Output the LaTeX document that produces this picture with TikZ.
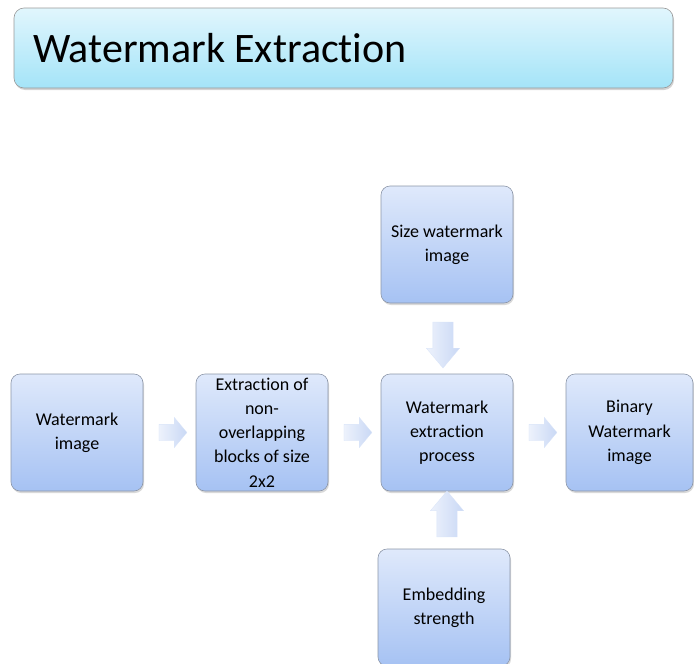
\documentclass[tikz,border=0pt]{standalone}
\usepackage{fontspec}
\setmainfont[Ligatures=NoCommon]{Carlito}
\usetikzlibrary{shapes.arrows,shadows,calc}
\definecolor{boxtop}{HTML}{DFE9FB}
\definecolor{boxbot}{HTML}{A6C2F3}
\definecolor{boxline}{HTML}{8C96A8}
\definecolor{ttop}{HTML}{E1F6FD}
\definecolor{tbot}{HTML}{A4E4F8}
\definecolor{arrA}{HTML}{EDF2FC}
\definecolor{arrB}{HTML}{C9D8F5}
\tikzset{
  stepbox/.style={rectangle, rounded corners=9pt, draw=boxline, line width=0.6pt,
    top color=boxtop, bottom color=boxbot, minimum width=132pt, minimum height=117pt,
    inner sep=2pt, align=center, font=\fontsize{18}{24.3}\selectfont,
    drop shadow={opacity=0.3, shadow xshift=1pt, shadow yshift=-2pt}},
  blockarrow/.style={single arrow, draw=arrB!70!white, line width=0.3pt,
    left color=arrA, right color=arrB, inner sep=8pt,
    single arrow head extend=7pt, minimum height=28pt, single arrow tip angle=100},
  vblockarrow/.style={blockarrow, inner sep=10pt, single arrow head extend=6.5pt,
    minimum height=46pt, single arrow tip angle=80}
}
\begin{document}
\begin{tikzpicture}[x=1pt,y=-1pt]
\useasboundingbox (0,0) rectangle (694,664);
\node[rectangle, rounded corners=10pt, draw=gray!80, line width=0.6pt,
  top color=ttop, bottom color=tbot, minimum height=80pt,
  text width=621pt, inner xsep=19pt, align=left,
  font=\fontsize{42}{46}\selectfont,
  drop shadow={opacity=0.35, shadow xshift=1pt, shadow yshift=-2pt}]
  (title) at (343.5,48) {Watermark\hspace{9pt}Extraction};

\node[stepbox] (wm) at (77,432.5) {Watermark\\image};
\node[stepbox] (blk) at (262,432.5) {Extraction of\\non-\\overlapping\\blocks of size\\2x2};
\node[stepbox] (proc) at (447,432.5) {Watermark\\extraction\\process};
\node[stepbox, minimum width=127pt] (bin) at (629.5,432.5) {Binary\\Watermark\\image};
\node[stepbox] (size) at (447,244.5) {Size watermark\\image};
\node[stepbox] (emb) at (444,607.5) {Embedding\\strength};

\node[blockarrow] (a1) at ($(wm.east)!0.5!(blk.west)$) {};
\node[blockarrow] (a2) at ($(blk.east)!0.5!(proc.west)$) {};
\node[blockarrow] (a3) at ($(proc.east)!0.5!(bin.west)$) {};
\node[vblockarrow, rotate=-90] (a4) at (443,339) {};
\node[vblockarrow, rotate=90] (a5) at (447,520) {};
\end{tikzpicture}
\end{document}
